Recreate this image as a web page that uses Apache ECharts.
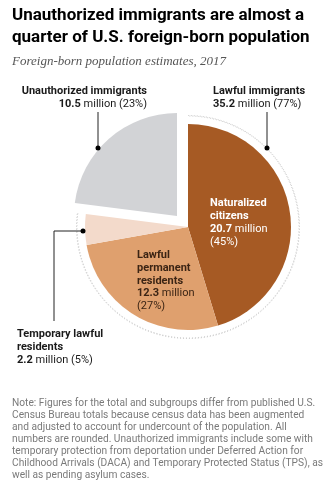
<!DOCTYPE html>
<html><head><meta charset="utf-8">
<script src="https://cdn.jsdelivr.net/npm/echarts@6/dist/echarts.min.js"></script>
<style>html,body{margin:0;padding:0;background:#fff}#c{width:323px;height:480px}</style>
</head><body><div id="c"></div>
<script>
// ---- data ----
const categories = ['Naturalized citizens', 'Lawful permanent residents', 'Temporary lawful residents', 'Unauthorized immigrants'];
const valuesMillions = [20.7, 12.3, 2.2, 10.5];
const percents = [45, 27, 5, 23];
const lawfulGroupName = 'Lawful immigrants';
const lawfulTotal = 35.2;
const lawfulPct = 77;
const sliceColors = ['#a65a24', '#dfa06e', '#f3dacb', '#d2d3d6'];

const titleLines = ['Unauthorized immigrants are almost a', 'quarter of U.S. foreign-born population'];
const subtitle = 'Foreign-born population estimates, 2017';
const noteLines = [
  'Note: Figures for the total and subgroups differ from published U.S.',
  'Census Bureau totals because census data has been augmented',
  'and adjusted to account for undercount of the population. All',
  'numbers are rounded. Unauthorized immigrants include some with',
  'temporary protection from deportation under Deferred Action for',
  'Childhood Arrivals (DACA) and Temporary Protected Status (TPS), as',
  'well as pending asylum cases.'
];

// ---- layout ----
const CX = 188, CY = 227, R = 103;
const SANS = 'Roboto, "Liberation Sans", sans-serif';
const lawfulSum = valuesMillions[0] + valuesMillions[1] + valuesMillions[2];

const lawfulData = categories.map((n, i) => ({
  name: n, value: valuesMillions[i],
  itemStyle: { color: i === 3 ? 'rgba(0,0,0,0)' : sliceColors[i] }
}));
const unauthData = [
  { name: categories[3], value: valuesMillions[3], itemStyle: { color: sliceColors[3] } },
  { name: lawfulGroupName, value: lawfulSum, itemStyle: { color: 'rgba(0,0,0,0)' } }
];
const outlineData = [
  { name: lawfulGroupName, value: lawfulSum, itemStyle: { color: 'rgba(0,0,0,0)', borderColor: '#c8c8c8', borderType: [1, 2], borderWidth: 1 } },
  { name: categories[3], value: valuesMillions[3], itemStyle: { color: 'rgba(0,0,0,0)', borderWidth: 0 } }
];

function txt(x, y, text, opts) {
  return {
    type: 'text', x: x, y: y, z: 100, silent: true,
    style: Object.assign({ text: text, font: 'bold 11px ' + SANS, fill: '#1a1a1a', textAlign: 'left', textVerticalAlign: 'middle' }, opts || {})
  };
}
function richLine(x, y, num, rest, color, align) {
  return {
    type: 'text', x: x, y: y, z: 100, silent: true,
    style: {
      text: '{b|' + num + '}{n|' + rest + '}',
      textAlign: align || 'left', textVerticalAlign: 'middle',
      rich: {
        b: { font: 'bold 11px ' + SANS, fill: color },
        n: { font: '11px ' + SANS, fill: color }
      }
    }
  };
}
function leader(points) {
  return { type: 'polyline', z: 100, silent: true, shape: { points: points }, style: { stroke: '#222', lineWidth: 1, fill: null } };
}
function dot(x, y) {
  return { type: 'circle', z: 101, silent: true, shape: { cx: x, cy: y, r: 2.5 }, style: { fill: '#000' } };
}

const graphics = [];
// title
graphics.push(txt(12, 16, titleLines[0], { font: 'bold 17px ' + SANS, fill: '#000' }));
graphics.push(txt(12, 38, titleLines[1], { font: 'bold 17px ' + SANS, fill: '#000' }));
graphics.push(txt(12, 62, subtitle, { font: 'italic 13px "Liberation Serif", serif', fill: '#555' }));

// Unauthorized label
graphics.push(txt(147, 91, categories[3], { textAlign: 'right' }));
graphics.push(richLine(147, 104, valuesMillions[3].toFixed(1), ' million (' + percents[3] + '%)', '#1a1a1a', 'right'));
graphics.push(leader([[98, 112], [98, 148]]));
graphics.push(dot(98, 148));

// Lawful label
graphics.push(txt(213, 91, lawfulGroupName));
graphics.push(richLine(213, 104, lawfulTotal.toFixed(1), ' million (' + lawfulPct + '%)', '#1a1a1a'));
graphics.push(leader([[267, 112], [267, 148]]));
graphics.push(dot(267, 148));

// Naturalized label (inside)
graphics.push(txt(210, 203, 'Naturalized', { fill: '#fff' }));
graphics.push(txt(210, 216, 'citizens', { fill: '#fff' }));
graphics.push(richLine(210, 229, valuesMillions[0].toFixed(1), ' million', '#fff'));
graphics.push(txt(210, 242, '(' + percents[0] + '%)', { fill: '#fff', font: '11px ' + SANS }));

// LPR label (inside)
const lprC = '#3b2414';
graphics.push(txt(137, 255, 'Lawful', { fill: lprC }));
graphics.push(txt(137, 268, 'permanent', { fill: lprC }));
graphics.push(txt(137, 281, 'residents', { fill: lprC }));
graphics.push(richLine(137, 293, valuesMillions[1].toFixed(1), ' million', lprC));
graphics.push(txt(137, 306, '(' + percents[1] + '%)', { fill: lprC, font: '11px ' + SANS }));

// Temporary label
graphics.push(txt(17, 334, 'Temporary lawful'));
graphics.push(txt(17, 347, 'residents'));
graphics.push(richLine(17, 360, valuesMillions[2].toFixed(1), ' million (' + percents[2] + '%)', '#1a1a1a'));
graphics.push(leader([[83, 231], [54, 231], [54, 321]]));
graphics.push(dot(83, 231));

// Note
noteLines.forEach((l, i) => {
  graphics.push(txt(12, 403 + i * 12.1, l, { font: '10.2px ' + SANS, fill: '#7a7a7a' }));
});

const chart = echarts.init(document.getElementById('c'), null, { renderer: 'canvas' });
chart.setOption({
  animation: false,
  backgroundColor: '#fff',
  series: [
    {
      type: 'pie', name: 'outline', z: 1, silent: true,
      center: [CX, CY], radius: [R + 8, R + 8.5], startAngle: 90, clockwise: true,
      label: { show: false }, labelLine: { show: false }, data: outlineData
    },
    {
      type: 'pie', name: 'lawful', z: 2, silent: true,
      center: [CX, CY], radius: R, startAngle: 90, clockwise: true,
      label: { show: false }, labelLine: { show: false }, data: lawfulData
    },
    {
      type: 'pie', name: 'unauthorized', z: 2, silent: true,
      center: [CX - 11, CY - 11], radius: R, startAngle: 90, clockwise: false,
      label: { show: false }, labelLine: { show: false }, data: unauthData
    }
  ],
  graphic: graphics
});
</script>
</body></html>
